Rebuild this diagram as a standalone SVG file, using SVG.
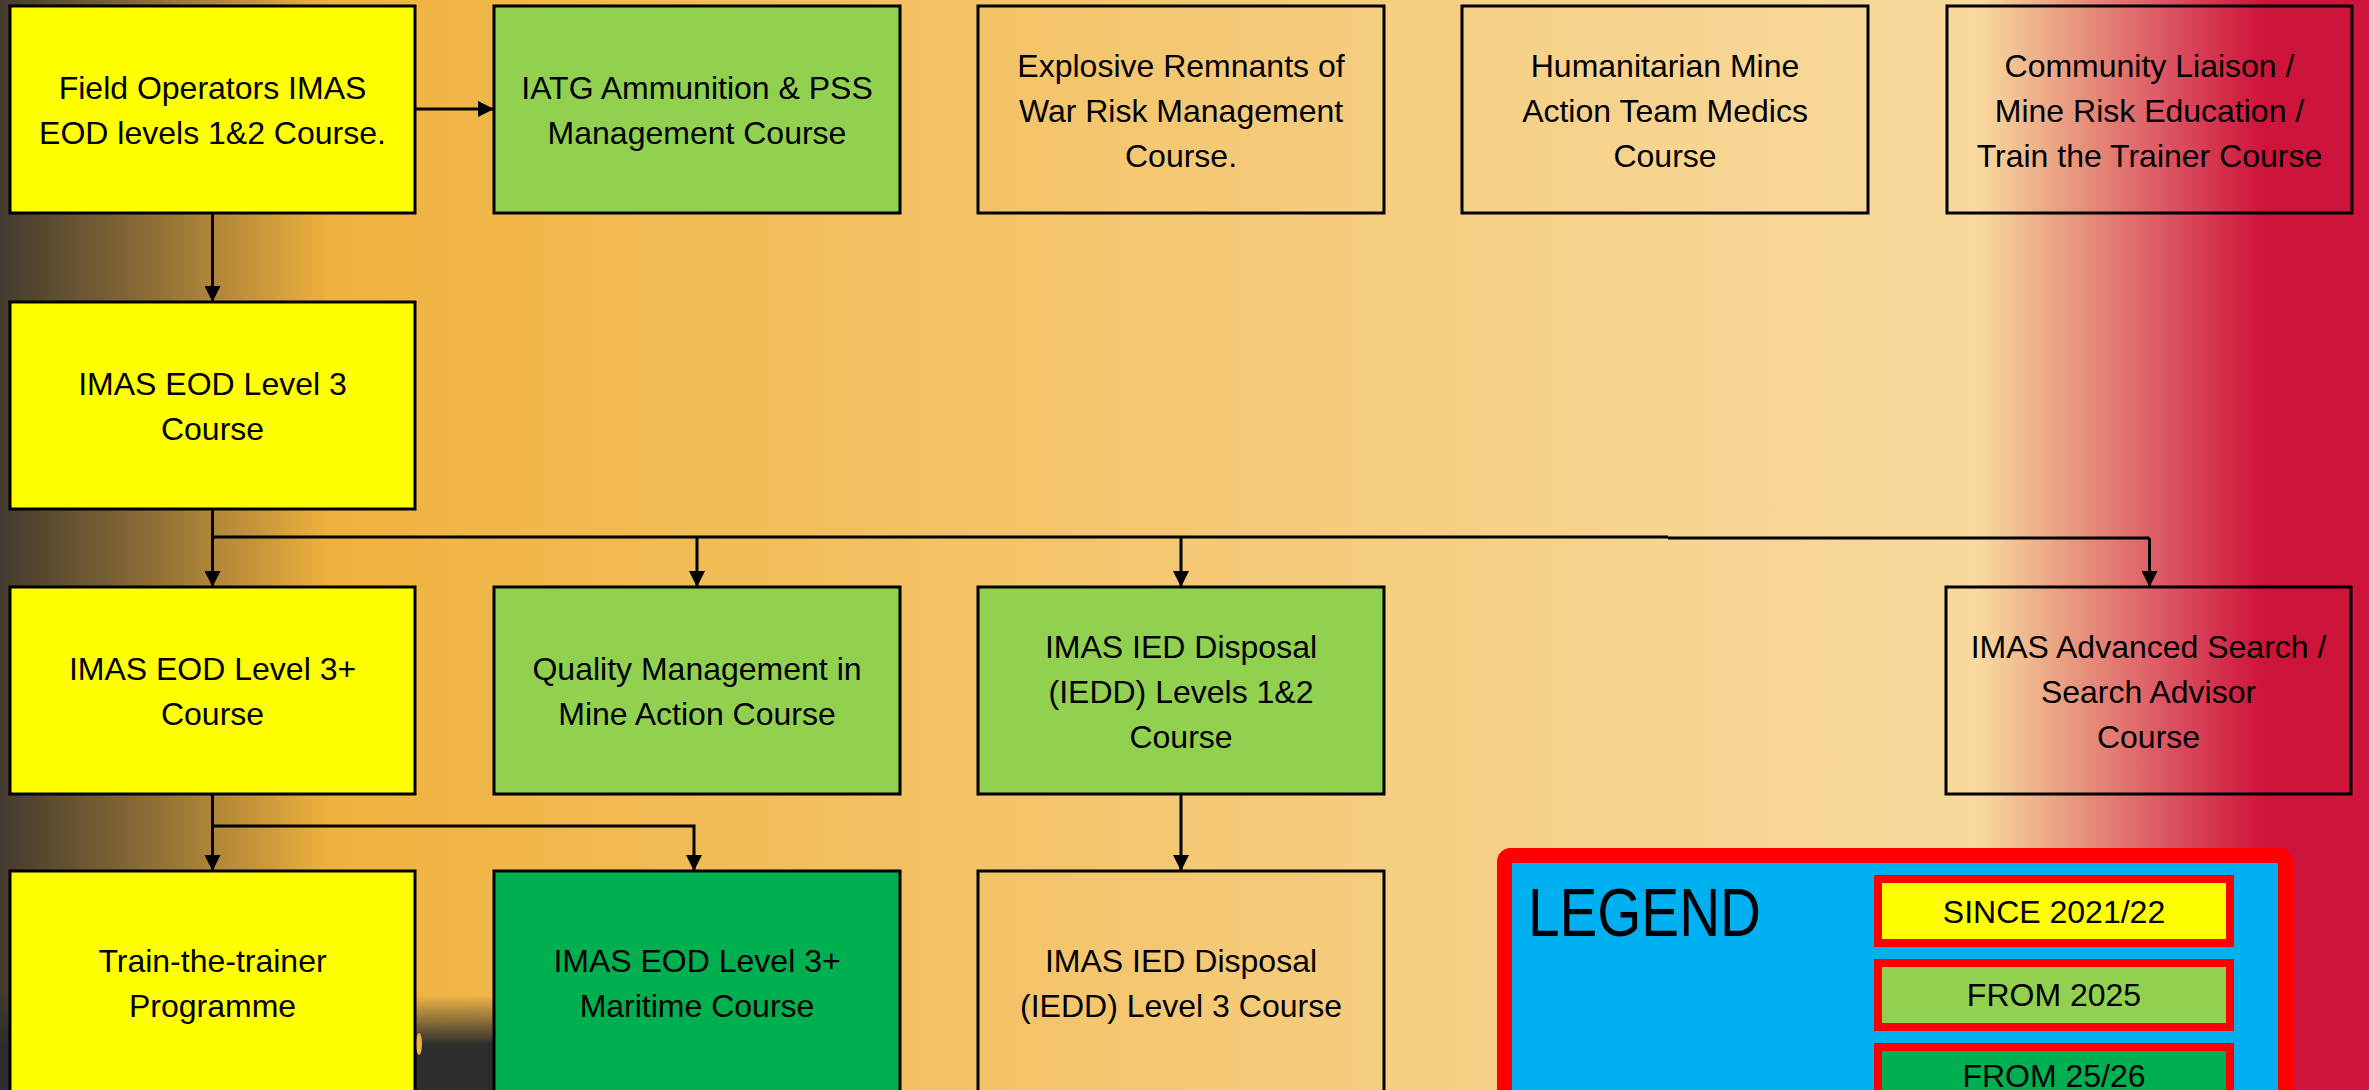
<svg xmlns="http://www.w3.org/2000/svg" width="2369" height="1090" viewBox="0 0 2369 1090">
<defs>
<linearGradient id="bg" x1="0" y1="0" x2="2369" y2="0" gradientUnits="userSpaceOnUse">
<stop offset="0" stop-color="#423A2E"/>
<stop offset="0.065" stop-color="#8F6F36"/>
<stop offset="0.14" stop-color="#F0B23E"/>
<stop offset="0.40" stop-color="#F3C265"/>
<stop offset="0.65" stop-color="#F6D189"/>
<stop offset="0.835" stop-color="#F8DA9E"/>
<stop offset="0.875" stop-color="#E8987F"/>
<stop offset="0.915" stop-color="#DB5462"/>
<stop offset="0.955" stop-color="#CE143A"/>
<stop offset="1" stop-color="#CE143A"/>
</linearGradient>
<linearGradient id="darkb" x1="0" y1="995" x2="0" y2="1045" gradientUnits="userSpaceOnUse">
<stop offset="0" stop-color="#2D2D2D" stop-opacity="0"/>
<stop offset="1" stop-color="#2D2D2D" stop-opacity="1"/>
</linearGradient>
<marker id="ah" markerUnits="userSpaceOnUse" markerWidth="16" markerHeight="16" refX="16" refY="8" orient="auto">
<path d="M0,0 L16,8 L0,16 Z" fill="#000"/>
</marker>
</defs>
<style>
.box{stroke:#000;stroke-width:3}
.y{fill:#FFFF00}
.lg{fill:#92D050}
.dg{fill:#00B050}
.tr{fill:none}
.t{font-family:"Liberation Sans",Arial,sans-serif;font-size:32px;fill:#000;text-anchor:middle}
.c{fill:none;stroke:#000;stroke-width:3}
.a{marker-end:url(#ah)}
.li{stroke:#FF0000;stroke-width:8}
</style>
<rect x="0" y="0" width="2369" height="1090" fill="url(#bg)"/>
<rect x="0" y="995" width="494" height="95" fill="url(#darkb)"/>
<ellipse cx="419" cy="1044" rx="3" ry="11" fill="#F0B23E"/>

<g id="connectors">
<path class="c a" d="M415,109 H494"/>
<path class="c a" d="M212.5,213 V302"/>
<path class="c a" d="M212.5,509 V587"/>
<path class="c" d="M212.5,537 H1668"/>
<path class="c" d="M1668,538 H2149.5"/>
<path class="c a" d="M697,537 V587"/>
<path class="c a" d="M1181,537 V587"/>
<path class="c a" d="M2149.5,538 V587"/>
<path class="c a" d="M212.5,794 V871"/>
<path class="c a" d="M212.5,826 H694 V871"/>
<path class="c a" d="M1181,794 V871"/>
</g>

<g id="n-field-operators">
<rect class="box y" x="10" y="6" width="405" height="207"/>
<text class="t" x="212.5" y="99">Field Operators IMAS<tspan x="212.5" y="144">EOD levels 1&amp;2 Course.</tspan></text>
</g>
<g id="n-iatg">
<rect class="box lg" x="494" y="6" width="406" height="207"/>
<text class="t" x="697" y="99">IATG Ammunition &amp; PSS<tspan x="697" y="144">Management Course</tspan></text>
</g>
<g id="n-erw">
<rect class="box tr" x="978" y="6" width="406" height="207"/>
<text class="t" x="1181" y="76.5">Explosive Remnants of<tspan x="1181" y="121.5">War Risk Management</tspan><tspan x="1181" y="166.5">Course.</tspan></text>
</g>
<g id="n-medics">
<rect class="box tr" x="1462" y="6" width="406" height="207"/>
<text class="t" x="1665" y="76.5">Humanitarian Mine<tspan x="1665" y="121.5">Action Team Medics</tspan><tspan x="1665" y="166.5">Course</tspan></text>
</g>
<g id="n-community">
<rect class="box tr" x="1947" y="6" width="405" height="207"/>
<text class="t" x="2149.5" y="76.5">Community Liaison /<tspan x="2149.5" y="121.5">Mine Risk Education /</tspan><tspan x="2149.5" y="166.5">Train the Trainer Course</tspan></text>
</g>

<g id="n-eod3">
<rect class="box y" x="10" y="302" width="405" height="207"/>
<text class="t" x="212.5" y="395">IMAS EOD Level 3<tspan x="212.5" y="440">Course</tspan></text>
</g>

<g id="n-eod3plus">
<rect class="box y" x="10" y="587" width="405" height="207"/>
<text class="t" x="212.5" y="680">IMAS EOD Level 3+<tspan x="212.5" y="725">Course</tspan></text>
</g>
<g id="n-quality">
<rect class="box lg" x="494" y="587" width="406" height="207"/>
<text class="t" x="697" y="680">Quality Management in<tspan x="697" y="725">Mine Action Course</tspan></text>
</g>
<g id="n-iedd12">
<rect class="box lg" x="978" y="587" width="406" height="207"/>
<text class="t" x="1181" y="657.5">IMAS IED Disposal<tspan x="1181" y="702.5">(IEDD) Levels 1&amp;2</tspan><tspan x="1181" y="747.5">Course</tspan></text>
</g>
<g id="n-search">
<rect class="box tr" x="1946" y="587" width="405" height="207"/>
<text class="t" x="2148.5" y="657.5">IMAS Advanced Search /<tspan x="2148.5" y="702.5">Search Advisor</tspan><tspan x="2148.5" y="747.5">Course</tspan></text>
</g>

<g id="n-ttt">
<rect class="box y" x="10" y="871" width="405" height="225"/>
<text class="t" x="212.5" y="972">Train-the-trainer<tspan x="212.5" y="1017">Programme</tspan></text>
</g>
<g id="n-maritime">
<rect class="box dg" x="494" y="871" width="406" height="225"/>
<text class="t" x="697" y="972">IMAS EOD Level 3+<tspan x="697" y="1017">Maritime Course</tspan></text>
</g>
<g id="n-iedd3">
<rect class="box tr" x="978" y="871" width="406" height="225"/>
<text class="t" x="1181" y="972">IMAS IED Disposal<tspan x="1181" y="1017">(IEDD) Level 3 Course</tspan></text>
</g>

<g id="legend">
<rect x="1504.5" y="855.5" width="781" height="260" rx="6" fill="#00B0F0" stroke="#FF0000" stroke-width="15"/>
<text x="1528" y="936" font-family="Liberation Sans, Arial, sans-serif" font-size="68" textLength="233" lengthAdjust="spacingAndGlyphs" fill="#000">LEGEND</text>
<g id="legend-since">
<rect class="li y" x="1878" y="879" width="352" height="64"/>
<text class="t" x="2054" y="923">SINCE 2021/22</text>
</g>
<g id="legend-2025">
<rect class="li lg" x="1878" y="963" width="352" height="64"/>
<text class="t" x="2054" y="1006">FROM 2025</text>
</g>
<g id="legend-2526">
<rect class="li dg" x="1878" y="1047" width="352" height="64"/>
<text class="t" x="2054" y="1087">FROM 25/26</text>
</g>
</g>
</svg>
